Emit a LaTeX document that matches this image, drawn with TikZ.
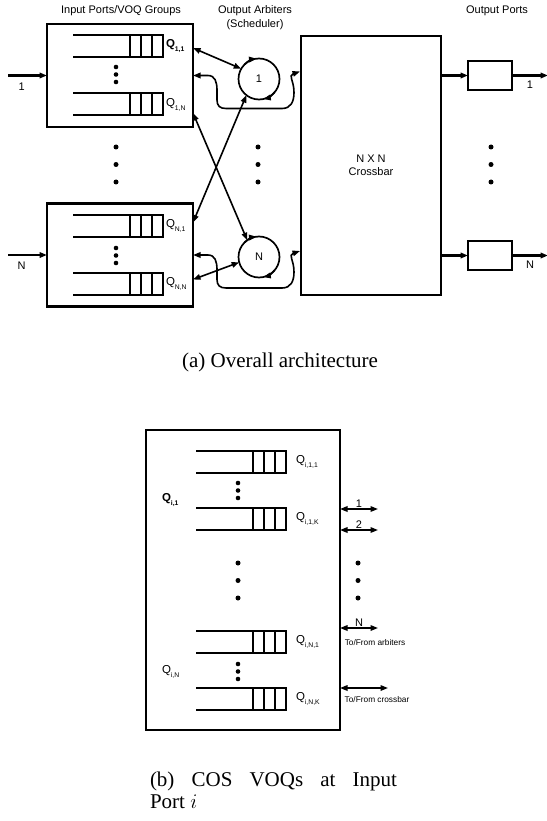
\documentclass[tikz,border=0pt]{standalone}
\usepackage{fontspec}
\setmainfont{Liberation Serif}
\setsansfont{Liberation Sans}
\usetikzlibrary{arrows.meta, positioning, calc}

% one VOQ: open at the left, three cells at the head
\newcommand{\voq}[2]{%
  \draw[queue] (#1,#2) -- ++(90,0) -- ++(0,-22) -- ++(-90,0);
  \draw[queue] (#1+57,#2) -- ++(0,-22) (#1+68,#2) -- ++(0,-22) (#1+79,#2) -- ++(0,-22);
}
% queue label with a small subscript
\newcommand{\qlabel}[2]{#1\raisebox{-0.7ex}{\fontsize{6.8}{7}\selectfont #2}}
% close and wide vertical dots
\newcommand{\fewdots}[2]{\fill (#1,#2) circle (2.3) (#1,#2-7.5) circle (2.3) (#1,#2-15) circle (2.3);}
\newcommand{\moredots}[2]{\fill (#1,#2) circle (2.5) (#1,#2-17.5) circle (2.5) (#1,#2-35) circle (2.5);}

\begin{document}
\begin{tikzpicture}[
    x=1pt, y=1pt,
    >={Triangle[length=7.5pt,width=5.5pt]},
    every node/.style={font=\sffamily\fontsize{11}{13}\selectfont, inner sep=0pt, outer sep=0pt},
    inport/.style={draw, line width=2.8pt, minimum width=146pt, minimum height=103pt},
    arbiter/.style={draw, circle, line width=1.7pt, minimum size=41pt},
    xbarbox/.style={draw, line width=1.7pt, minimum width=140pt, minimum height=259pt, align=center},
    outport/.style={draw, line width=1.9pt, minimum width=44pt, minimum height=29pt},
    portbox/.style={draw, line width=2.6pt, minimum width=194pt, minimum height=300pt},
    queue/.style={line width=1.9pt},
    feed/.style={line width=2.5pt, ->},
    link/.style={line width=1.6pt, <->},
    spin/.style={line width=1.7pt, ->},
    qlab/.style={anchor=west, font=\sffamily\fontsize{11.5}{13}\selectfont},
    note/.style={font=\sffamily\fontsize{8.3}{10}\selectfont},
    caption/.style={font=\rmfamily\fontsize{21}{22}\selectfont},
]
  \useasboundingbox (0,0) rectangle (546,-821);

  % (a) overall architecture
  \node (ttlin) at (121,-11) {Input Ports/VOQ Groups};
  \node[align=center, font=\sffamily\fontsize{11}{14}\selectfont] (ttlarb) at (255,-18) {Output Arbiters\\(Scheduler)};
  \node (ttlout) at (497,-11) {Output Ports};

  \node[inport] (in1) at (120,-75.5) {};
  \node[inport] (inN) at (120,-255) {};
  \node[arbiter] (arb1) at (259,-79) {1};
  \node[arbiter] (arbN) at (259,-257) {N};
  \node[xbarbox] (xbar) at (371,-165.5) {N X N\\Crossbar};
  \node[outport] (out1) at (490,-75.5) {};
  \node[outport] (outN) at (490,-255.5) {};

  \voq{73}{-35}
  \voq{73}{-93}
  \voq{73}{-215}
  \voq{73}{-273}
  \fewdots{116}{-67}
  \fewdots{116}{-248}
  \moredots{116}{-147}
  \moredots{258}{-147}
  \moredots{491}{-147}

  \node[qlab] (q11) at (166,-46) {\qlabel{\textbf{Q}}{\textbf{1,1}}};
  \node[qlab] (q1N) at (166,-105) {\qlabel{Q}{1,N}};
  \node[qlab] (qN1) at (166,-226) {\qlabel{Q}{N,1}};
  \node[qlab] (qNN) at (166,-284) {\qlabel{Q}{N,N}};

  % inputs and outputs
  \coordinate (src1) at (8,-75.5);
  \coordinate (srcN) at (8,-255);
  \coordinate (sink1) at (548,-75.5);
  \coordinate (sinkN) at (548,-255.5);
  \draw[feed] (src1) -- node[pos=0.35, below=7pt] {1} (in1);
  \draw[feed] (srcN) -- node[pos=0.35, below=7pt] {N} (inN);
  \draw[feed] (xbar.east |- out1) -- (out1);
  \draw[feed] (xbar.east |- outN) -- (outN);
  \draw[feed] (out1) -- node[pos=0.5, below=5pt] {1} (sink1);
  \draw[feed] (outN) -- node[pos=0.5, below=5pt] {N} (sinkN);

  % requests and grants
  \draw[link] ([yshift=-24pt]in1.north east) -- (arb1.150);
  \draw[link] ([yshift=-89pt]in1.north east) -- (arbN.125);
  \draw[link] ([yshift=-19pt]inN.north east) -- (arb1.-128);
  \draw[link] ([yshift=-76pt]inN.north east) -- (arbN.195);
  \draw[spin] (arb1.center) ++(135:20.5) arc (135:97:20.5);
  \draw[spin] (arb1.center) ++(-40:20.5) arc (-40:-78:20.5);
  \draw[spin] (arbN.center) ++(135:20.5) arc (135:97:20.5);
  \draw[spin] (arbN.center) ++(-40:20.5) arc (-40:-78:20.5);

  % configuration to the crossbar
  \draw[link] (in1.east) -- ++(15,0) .. controls +(7,0) and +(0,8) .. ++(9,-14.5) -- ++(0,-10)
    .. controls +(0,-6) and +(-6,0) .. ++(9,-8.5) -- ++(56,0) .. controls +(9,0) and +(0,-9) .. ++(12,16)
    .. controls +(0,12) and +(-12,-4) .. ($(xbar.west |- in1.east)+(-1,4)$);
  \draw[link] (inN.east) -- ++(15,0) .. controls +(7,0) and +(0,8) .. ++(9,-14.5) -- ++(0,-10)
    .. controls +(0,-6) and +(-6,0) .. ++(9,-8.5) -- ++(56,0) .. controls +(9,0) and +(0,-9) .. ++(12,16)
    .. controls +(0,12) and +(-12,-4) .. ($(xbar.west |- inN.east)+(-1,4)$);

  \node[caption] (capa) at (280,-362) {(a) Overall architecture};

  % (b) COS VOQs at one input port
  \node[portbox] (portb) at (243,-580) {};
  \voq{196}{-451}
  \voq{196}{-508}
  \voq{196}{-631}
  \voq{196}{-688}
  \fewdots{238}{-483}
  \fewdots{238}{-664}
  \moredots{238}{-563}
  \moredots{358}{-563}

  \node[qlab] (qi11) at (296,-462) {\qlabel{Q}{i,1,1}};
  \node[qlab] (qi1K) at (296,-519) {\qlabel{Q}{i,1,K}};
  \node[qlab] (qiN1) at (296,-642) {\qlabel{Q}{i,N,1}};
  \node[qlab] (qiNK) at (296,-699) {\qlabel{Q}{i,N,K}};
  \node[qlab] (qi1) at (162,-500) {\qlabel{\textbf{Q}}{\textbf{i,1}}};
  \node[qlab] (qiN) at (162,-672) {\qlabel{Q}{i,N}};

  \coordinate (to1) at (378,-509);
  \coordinate (to2) at (378,-530);
  \coordinate (toN) at (378,-628);
  \coordinate (tox) at (388,-688);
  \draw[link] (portb.east |- to1) -- node[above=2pt] {1} (to1);
  \draw[link] (portb.east |- to2) -- node[above=2pt] {2} (to2);
  \draw[link] (portb.east |- toN) -- node[above=2pt] {N} (toN);
  \draw[link] (portb.east |- tox) -- (tox);
  \node[note] (toarb) at (375,-643) {To/From arbiters};
  \node[note] (toxbar) at (377,-700) {To/From crossbar};

  \node[caption, text width=247pt, align=justify, anchor=north west] (capb) at (150,-772)
    {(b) COS VOQs at Input\linebreak Port $i$};
\end{tikzpicture}
\end{document}
